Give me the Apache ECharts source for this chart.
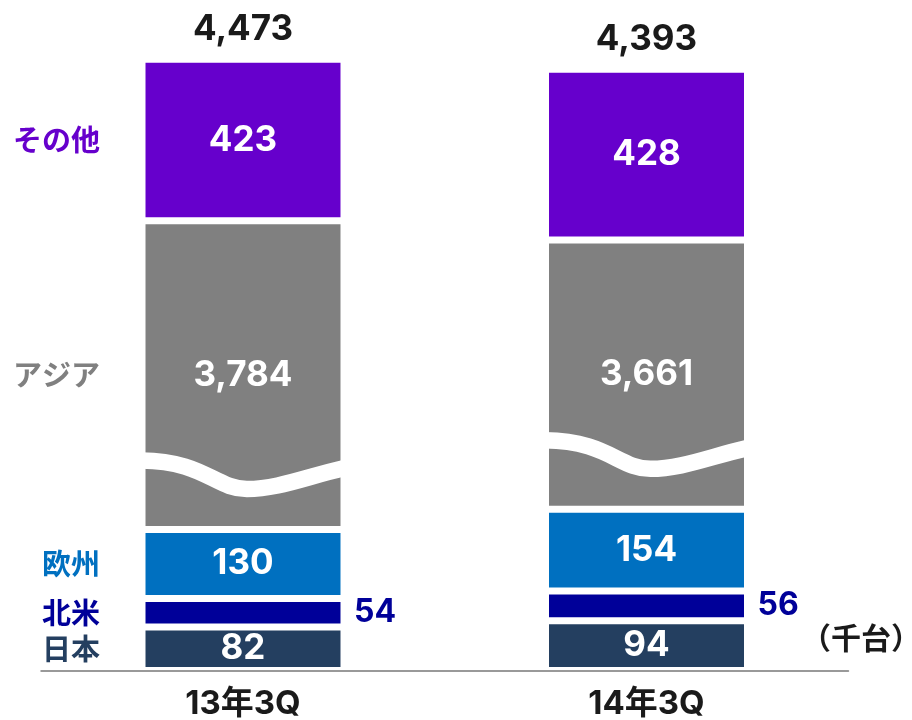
<!DOCTYPE html>
<html><head><meta charset="utf-8">
<script src="https://cdn.jsdelivr.net/npm/echarts@6/dist/echarts.min.js"></script>
<style>html,body{margin:0;padding:0;background:#fff}#c{width:912px;height:720px}</style>
</head><body><div id="c"></div>
<script>
// ---- data ----
const categories = ['13年3Q', '14年3Q'];
const regionNames = ['日本', '北米', '欧州', 'アジア', 'その他'];
const japan = [82, 94];
const northAmerica = [54, 56];
const europe = [130, 154];
const asia = [3784, 3661];
const others = [423, 428];
const totals = [4473, 4393];
const unitLabel = '（千台）';
// position (data units) of the wavy "omitted" mark inside each Asia segment
const waveMarks = [395, 686];

// ---- style ----
const colors = ['#243F60', '#000099', '#0070C0', '#808080', '#6600CC'];
const BAR_W = 202, BORDER = 3.5;
const NUM_FONT = 'Inter, "Liberation Sans", sans-serif';
const JP_FONT = '"Noto Sans CJK JP", sans-serif';
const seriesData = [japan, northAmerica, europe, asia, others];
const fmt = v => Number(v).toLocaleString('en-US');

const series = [];
seriesData.forEach((d, i) => {
  const isNA = i === 1;
  series.push({
    type: 'bar', name: regionNames[i], stack: 'main', data: d,
    barWidth: BAR_W, barGap: '-100%', silent: true,
    itemStyle: { color: colors[i], borderColor: '#fff', borderWidth: BORDER },
    label: {
      show: true,
      position: isNA ? 'right' : 'inside',
      distance: isNA ? 10 : 5,
      color: isNA ? '#000099' : '#fff',
      fontSize: isNA ? 32 : 35, fontWeight: 'bold', fontFamily: NUM_FONT,
      formatter: p => fmt(p.value)
    }
  });
});
// region names on the left of the first bar
seriesData.forEach((d, i) => {
  series.push({
    type: 'bar', name: regionNames[i] + '_name', stack: 'names',
    data: d.map((v, j) => ({ value: v, label: { show: j === 0 } })),
    barWidth: BAR_W, barGap: '-100%', silent: true,
    itemStyle: { color: 'rgba(0,0,0,0)' },
    label: {
      position: 'left', distance: 42, color: colors[i],
      fontSize: 29, fontWeight: 'bold', fontFamily: JP_FONT,
      formatter: () => regionNames[i]
    }
  });
});
// totals on top
series.push({
  type: 'bar', name: 'total', stack: 'total', data: totals,
  barWidth: BAR_W, barGap: '-100%', silent: true,
  itemStyle: { color: 'rgba(0,0,0,0)' },
  label: {
    show: true, position: 'top', distance: 12, color: '#1a1a1a',
    fontSize: 35, fontWeight: 'bold', fontFamily: NUM_FONT,
    formatter: p => fmt(p.value)
  }
});
// wavy omission mark
series.push({
  type: 'custom', name: 'wave', silent: true, z: 5,
  data: waveMarks.map((v, i) => [i, v]),
  renderItem: (params, api) => {
    const p = api.coord([api.value(0), api.value(1)]);
    const w = BAR_W - 2 * BORDER;
    const L = p[0] - w / 2, y = p[1];
    const d = `M ${L - 4} ${y - 0.5} ` +
      `C ${L + 0.3 * w} ${y} ${L + 0.36 * w} ${y + 28} ${L + 0.52 * w} ${y + 28} ` +
      `C ${L + 0.68 * w} ${y + 28} ${L + 0.82 * w} ${y + 16} ${L + w + 4} ${y + 7}`;
    return {
      type: 'path',
      shape: { pathData: d },
      style: { fill: 'none', stroke: '#fff', lineWidth: 16.5 }
    };
  }
});

const chart = echarts.init(document.getElementById('c'));
chart.setOption({
  animation: false,
  backgroundColor: '#fff',
  graphic: [{
    type: 'text', x: 861, y: 638, silent: true,
    style: { text: unitLabel, font: 'bold 30px "Noto Sans CJK JP", sans-serif',
      fill: '#1a1a1a', align: 'center', verticalAlign: 'middle' }
  }],
  grid: { left: 41.25, right: 63.75, top: 45, bottom: 49.5, outerBoundsMode: 'none' },
  xAxis: {
    type: 'category', data: categories, z: 10,
    axisTick: { show: false },
    axisLine: { lineStyle: { color: '#999999', width: 2 } },
    axisLabel: { fontSize: 33, fontWeight: 'bold', color: '#1a1a1a', margin: 17,
      fontFamily: 'Inter, "Noto Sans CJK JP", sans-serif' }
  },
  yAxis: {
    type: 'value', min: 0, max: 4500,
    breaks: [
      { start: 400, end: 4020, gap: 418 },
      { start: 4150, end: 4250, gap: 43 },
      { start: 4400, end: 4470, gap: 8.5 }
    ],
    breakArea: { show: false },
    axisLine: { show: false }, axisTick: { show: false },
    axisLabel: { show: false }, splitLine: { show: false }
  },
  series
});
</script></body></html>
